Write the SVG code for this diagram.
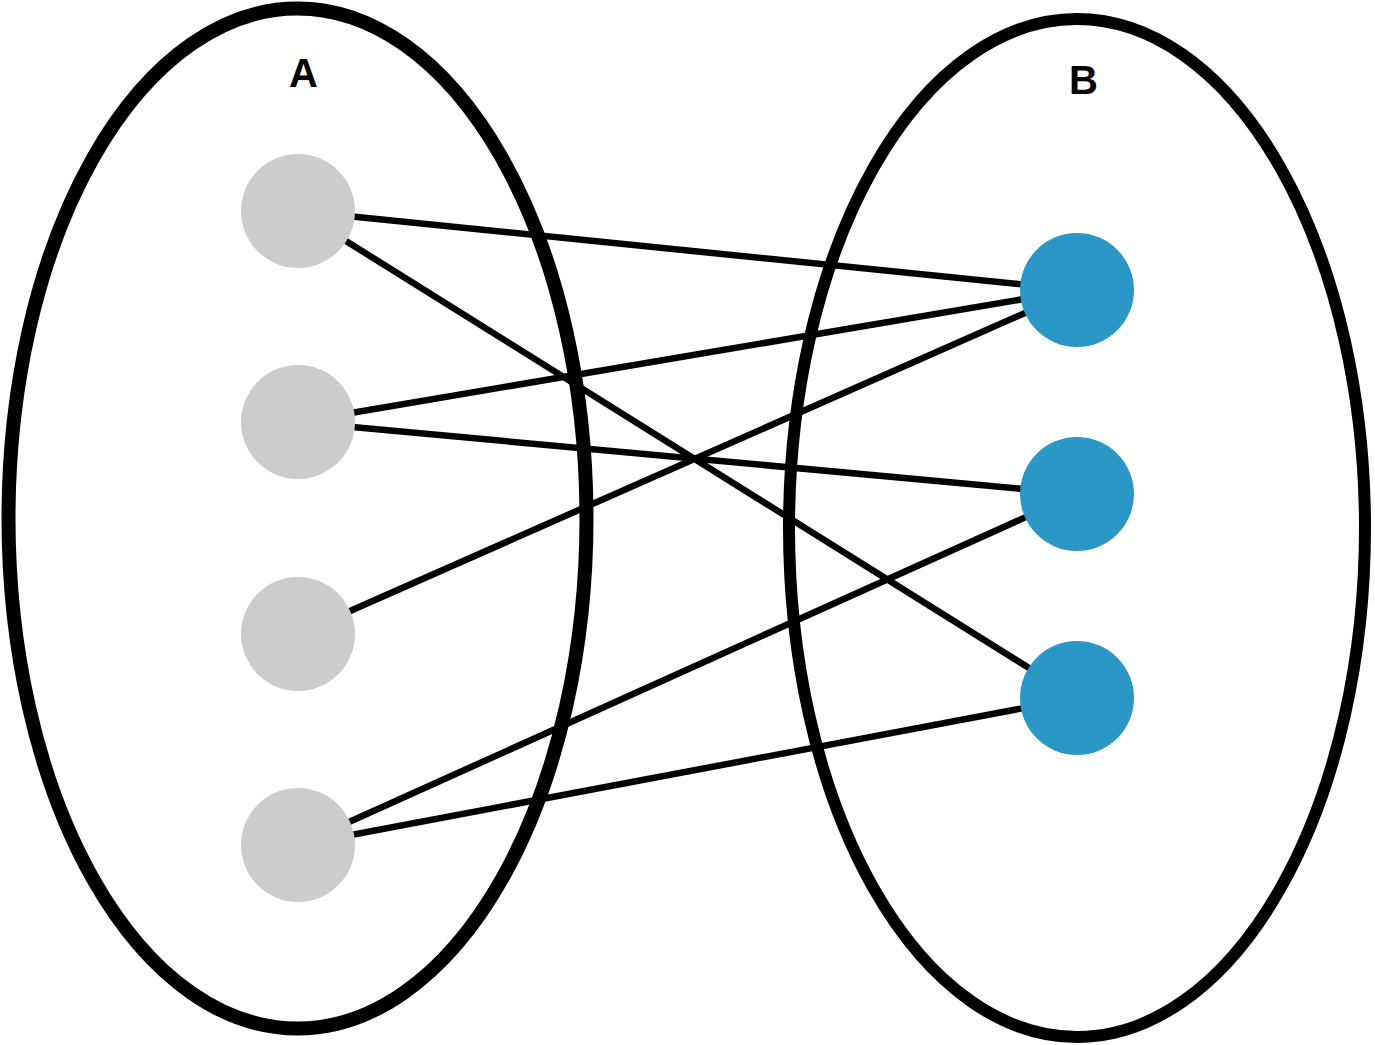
<svg xmlns="http://www.w3.org/2000/svg" width="1375" height="1045" viewBox="0 0 1375 1045">
<style>
.set{fill:none;stroke:#000}
.edge{stroke:#000;stroke-width:6.5;fill:none}
.a{fill:#cccccc}
.b{fill:#2b97c7}
.lbl{font-family:"Liberation Sans",Arial,sans-serif;font-weight:bold;font-size:40px;text-anchor:middle;fill:#000}
</style>
<rect width="1375" height="1045" fill="#fff"/>
<g id="setA">
<ellipse class="set" stroke-width="14" cx="297.5" cy="518.5" rx="289" ry="510"/>
<text class="lbl" x="303.5" y="87">A</text>
</g>
<g id="setB">
<ellipse class="set" stroke-width="12" cx="1077" cy="528" rx="288" ry="509"/>
<text class="lbl" x="1083.5" y="94">B</text>
</g>
<g id="connectors">
<line class="edge" x1="298" y1="211" x2="1077" y2="290"/>
<line class="edge" x1="298" y1="211" x2="1077" y2="698"/>
<line class="edge" x1="298" y1="422" x2="1077" y2="290"/>
<line class="edge" x1="298" y1="422" x2="1077" y2="494"/>
<line class="edge" x1="298" y1="634" x2="1077" y2="290"/>
<line class="edge" x1="298" y1="845" x2="1077" y2="494"/>
<line class="edge" x1="298" y1="845" x2="1077" y2="698"/>
</g>
<g id="a1"><circle class="a" cx="298" cy="211" r="57"/></g>
<g id="a2"><circle class="a" cx="298" cy="422" r="57"/></g>
<g id="a3"><circle class="a" cx="298" cy="634" r="57"/></g>
<g id="a4"><circle class="a" cx="298" cy="845" r="57"/></g>
<g id="b1"><circle class="b" cx="1077" cy="290" r="57"/></g>
<g id="b2"><circle class="b" cx="1077" cy="494" r="57"/></g>
<g id="b3"><circle class="b" cx="1077" cy="698" r="57"/></g>
</svg>
